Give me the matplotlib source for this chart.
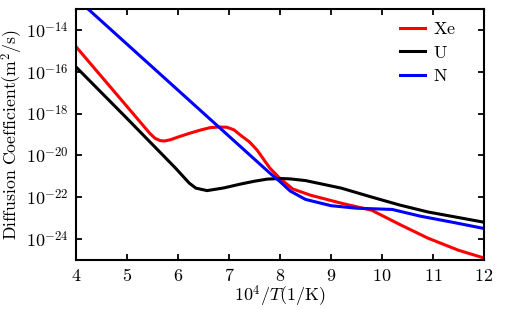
import numpy as np
import matplotlib
matplotlib.use("Agg")
import matplotlib.pyplot as plt
from matplotlib.ticker import FixedLocator, FuncFormatter, NullLocator

plt.rcParams['mathtext.fontset'] = 'cm'
plt.rcParams['font.family'] = ['DejaVu Serif']

# x = 10^4/T, values as log10(D)
xe_x = [4.0, 5.0, 5.45, 5.55, 5.65, 5.73, 5.85, 6.0, 6.24, 6.45, 6.63, 6.8, 6.96, 7.1, 7.22, 7.4, 7.55, 7.8, 8.0, 8.25, 8.6, 9.2, 9.8, 10.35, 10.9, 11.5, 12.0]
xe_y = [-14.8, -17.66, -18.95, -19.18, -19.29, -19.31, -19.25, -19.12, -18.93, -18.78, -18.67, -18.64, -18.65, -18.78, -19.02, -19.35, -19.74, -20.6, -21.1, -21.6, -21.9, -22.28, -22.62, -23.3, -23.95, -24.53, -24.9]

u_x = [4.0, 5.0, 5.95, 6.1, 6.22, 6.35, 6.57, 6.9, 7.22, 7.5, 7.75, 8.0, 8.2, 8.5, 9.2, 9.8, 10.35, 10.9, 12.0]
u_y = [-15.77, -18.23, -20.6, -21.0, -21.32, -21.56, -21.68, -21.55, -21.37, -21.23, -21.13, -21.1, -21.12, -21.2, -21.56, -21.99, -22.37, -22.7, -23.19]

n_x = [4.0, 5.0, 6.0, 7.0, 7.8, 8.0, 8.2, 8.5, 9.0, 9.5, 10.2, 10.75, 11.4, 12.0]
n_y = [-12.48, -14.68, -16.88, -19.08, -20.84, -21.25, -21.7, -22.1, -22.4, -22.52, -22.58, -22.9, -23.2, -23.49]

fig = plt.figure(figsize=(5.1, 3.1), dpi=100)
ax = fig.add_axes([0.149, 0.161, 0.800, 0.810])

ax.plot(xe_x, 10.0 ** np.array(xe_y), color='red', lw=2.2, label=r'$\mathrm{Xe}$')
ax.plot(u_x, 10.0 ** np.array(u_y), color='black', lw=2.2, label=r'$\mathrm{U}$')
ax.plot(n_x, 10.0 ** np.array(n_y), color='blue', lw=2.2, label=r'$\mathrm{N}$')

ax.set_yscale('log')
ax.set_xlim(4, 12)
ax.set_ylim(1e-25, 1e-13)

yt = [1e-14, 1e-16, 1e-18, 1e-20, 1e-22, 1e-24]
ax.yaxis.set_major_locator(FixedLocator(yt))
ax.yaxis.set_minor_locator(NullLocator())
ax.yaxis.set_major_formatter(FuncFormatter(lambda v, p: r'$10^{%d}$' % int(round(np.log10(v)))))
ax.xaxis.set_major_locator(FixedLocator(range(4, 13)))
ax.xaxis.set_major_formatter(FuncFormatter(lambda v, p: r'$%d$' % int(round(v))))

ax.tick_params(which='both', direction='in', top=True, right=True, length=4.5, width=1.3, labelsize=13, pad=5)
for s in ax.spines.values():
    s.set_linewidth(1.5)

ax.set_xlabel(r'$10^4/T(1/\mathrm{K})$', fontsize=13, labelpad=-1)
ax.set_ylabel(r'$\mathrm{Diffusion\ Coefficient}(\mathrm{m}^2/\mathrm{s})$', fontsize=12.8, labelpad=1)

ax.legend(loc='upper left', bbox_to_anchor=(0.794, 0.955), borderaxespad=0, borderpad=0,
          frameon=False, fontsize=13, handlelength=1.4, handletextpad=0.45, labelspacing=0.3)

fig.savefig('out.png', dpi=100)
